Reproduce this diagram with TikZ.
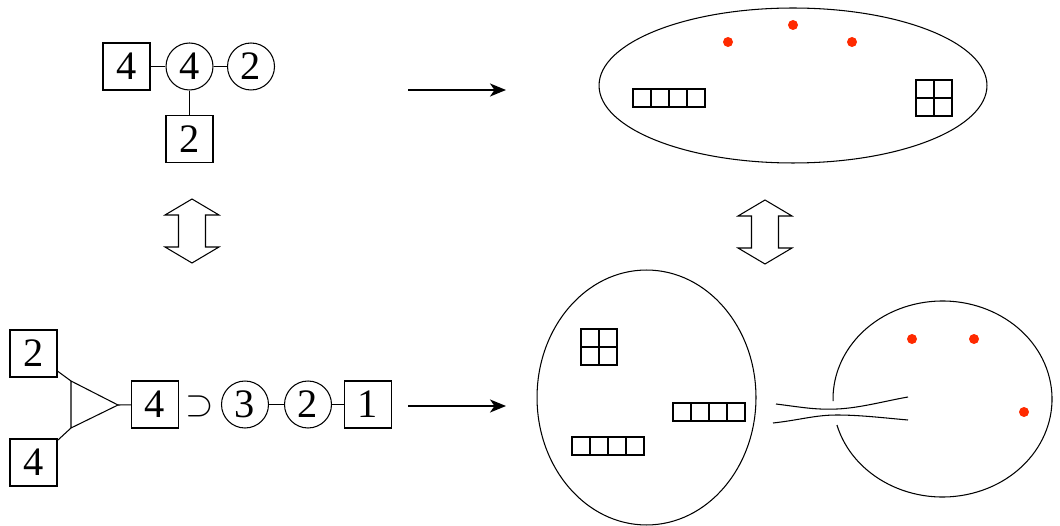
\documentclass[tikz,border=0pt]{standalone}
\usepackage{fontspec}
\setmainfont{Liberation Serif}
\newfontfamily\qfont{Liberation Serif}
\usepackage{tikz}
\usetikzlibrary{arrows.meta,positioning,shapes.geometric,calc}
\definecolor{cdot}{HTML}{FF2A00}
\tikzset{
  qbox/.style={draw, line width=0.6pt, minimum size=0.94cm, inner sep=0pt, font=\qfont\fontsize{23}{27}\selectfont},
  qcirc/.style={qbox, circle},
  qline/.style={line width=0.6pt},
  blob/.style={draw, ellipse, line width=0.6pt, inner sep=0pt},
  ycell/.style={line width=0.6pt},
  rdot/.style={circle, fill=cdot, inner sep=0pt, minimum size=0.2cm},
  maparrow/.style={-{Stealth[length=3.2mm, width=2.6mm, inset=0.9mm]}, line width=1.2pt},
  dblarrow/.style={line width=0.6pt, fill=white},
}
% a row of four boxes, top left corner at (#1,#2)
\newcommand\yrow[2]{%
  \foreach \k in {0,...,3} \draw[ycell] (#1+18*\k,#2) rectangle ++(18,-18);
}
% a 2x2 square, top left corner at (#1,#2)
\newcommand\ysquare[2]{%
  \foreach \i in {0,1} \foreach \j in {0,1} \draw[ycell] (#1+18*\i,#2-18*\j) rectangle ++(18,-18);
}
% hollow up-down arrow, tip at (#1,#2)
\newcommand\updown[2]{%
  \draw[dblarrow] (#1,#2) -- (#1+27,#2-16) -- (#1+13.5,#2-16) -- (#1+13.5,#2-48) -- (#1+27,#2-48)
    -- (#1,#2-64) -- (#1-27,#2-48) -- (#1-13.5,#2-48) -- (#1-13.5,#2-16) -- (#1-27,#2-16) -- cycle;
}
\begin{document}
\begin{tikzpicture}[x=0.02cm,y=0.02cm]
\useasboundingbox (0,0) rectangle (1060,-526);
% quiver, top left
\node[qbox] (tb4) at (126.5,-66.5) {4};
\node[qcirc] (tc4) at (189.5,-66.5) {4};
\node[qcirc] (tc2) at (251,-66.5) {2};
\node[qbox] (tb2) at (189.5,-139) {2};
\draw[qline] (tb4) -- (tc4);
\draw[qline] (tc4) -- (tc2);
\draw[qline] (tc4) -- (tb2);
% quiver, bottom left
\node[qbox] (lb2) at (33.5,-353.5) {2};
\node[qbox] (lb4) at (33.5,-462.5) {4};
\coordinate (tt) at (71,-381);
\coordinate (tb) at (71,-428);
\coordinate (ta) at (118,-405);
\draw[qline] (tt) -- (ta) -- (tb) -- cycle;
\node[qbox] (mb4) at (155,-404.5) {4};
\node[font=\fontsize{22}{24}\selectfont, inner sep=0pt] (sup) at (200,-406) {$\supset$};
\node[qcirc] (mc3) at (245,-404.5) {3};
\node[qcirc] (mc2) at (308,-404.5) {2};
\node[qbox] (mb1) at (368,-404.5) {1};
\draw[qline] (lb2) -- (tt);
\draw[qline] (lb4) -- (tb);
\draw[qline] (ta) -- (mb4);
\draw[qline] (mc3) -- (mc2);
\draw[qline] (mc2) -- (mb1);
% maps
\coordinate (up1) at (408,-90);
\coordinate (up2) at (506,-90);
\coordinate (dn1) at (408,-406);
\coordinate (dn2) at (506,-406);
\draw[maparrow] (up1) -- (up2);
\draw[maparrow] (dn1) -- (dn2);
\updown{192}{-199}
\updown{765}{-200}
% top surface
\node[blob, minimum width=7.76cm, minimum height=3.1cm] (top) at (793,-85.5) {};
\node[rdot] (d1) at (728,-42) {};
\node[rdot] (d2) at (793,-25) {};
\node[rdot] (d3) at (852,-42) {};
\yrow{633}{-89}
\ysquare{916}{-80}
% bottom surfaces
\node[blob, minimum width=4.38cm, minimum height=5.1cm] (left) at (646.5,-397.5) {};
\ysquare{581}{-329}
\yrow{673}{-403}
\yrow{572}{-437}
\draw[qline] (942.5,-399) ++(195.4:109.5 and 98) arc[start angle=195.4, end angle=541.2, x radius=109.5, y radius=98];
\draw[qline] (776,-404) .. controls (800,-407) and (815,-410) .. (837,-409) .. controls (860,-408) and (885,-401) .. (908,-397);
\draw[qline] (773,-423) .. controls (800,-420) and (815,-415) .. (837,-415) .. controls (860,-415) and (885,-418) .. (908,-420);
\node[rdot] (d4) at (912,-339) {};
\node[rdot] (d5) at (974,-339) {};
\node[rdot] (d6) at (1024,-412) {};
\end{tikzpicture}
\end{document}
